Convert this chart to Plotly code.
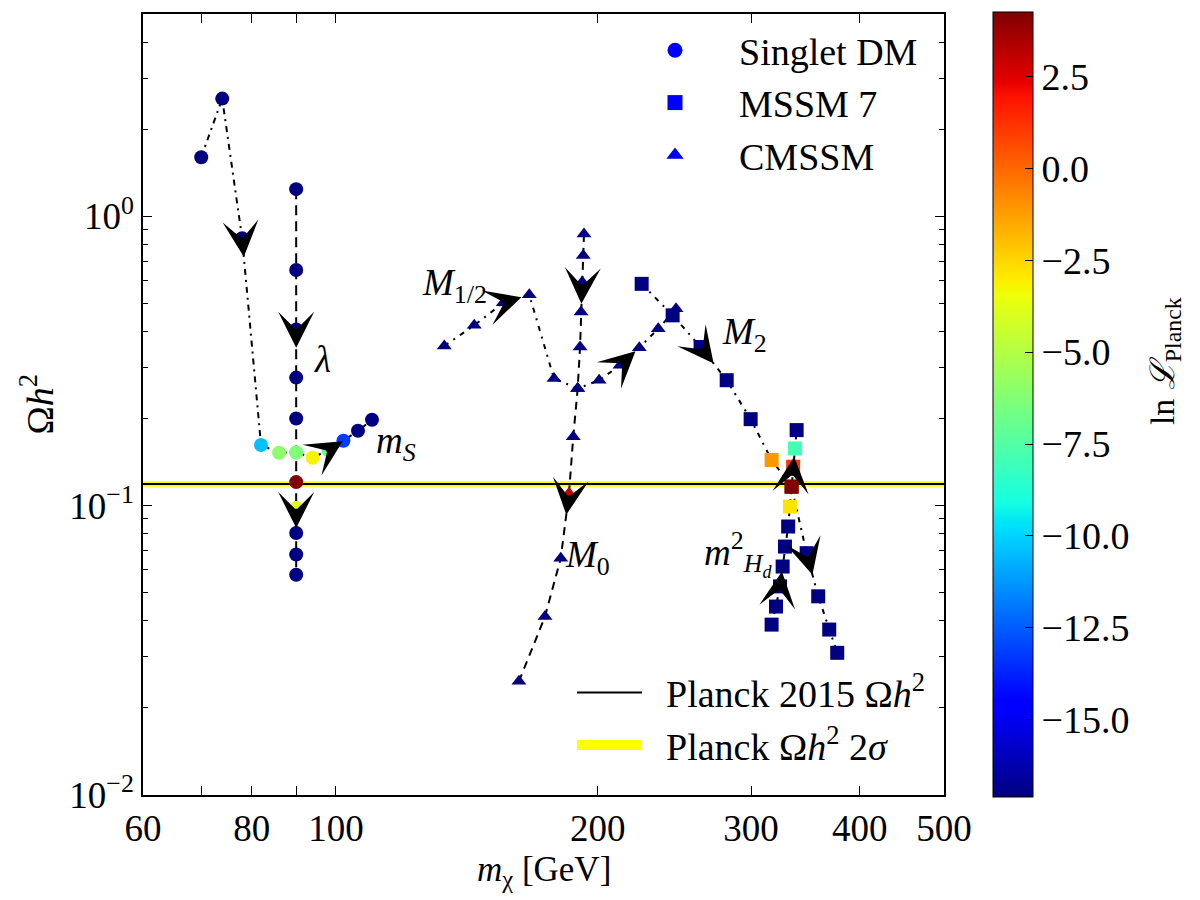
import math
import plotly.graph_objects as go

# ---------------- data ----------------
# Singlet DM: scan in m_S (lambda fixed)
singlet_ms_mass = [70, 74, 78, 82, 86, 90, 94, 98, 102, 106, 110]
singlet_ms_omega = [1.60, 2.55, 0.840, 0.162, 0.1524, 0.1527, 0.1464, 0.1556, 0.1675, 0.1814, 0.198]
singlet_ms_lnl = [-17.1, -17.1, -17.1, -10.4, -6.0, -6.3, -3.2, -7.0, -13.2, -17.1, -17.1]

# Singlet DM: scan in lambda (m_S fixed)
singlet_lam_mass = [90, 90, 90, 90, 90, 90, 90, 90, 90, 90, 90]
singlet_lam_omega = [1.241, 0.652, 0.406, 0.277, 0.200, 0.1527, 0.1206, 0.0981, 0.0804, 0.0678, 0.0577]
singlet_lam_lnl = [-17.1, -17.1, -17.1, -17.1, -17.1, -6.3, 4.2, -3.9, -17.1, -17.1, -17.1]

# MSSM7: scan in M2
mssm_m2_mass = [224.6, 243.8, 262.5, 281.3, 299.7, 316.8, 334.0, 347.6, 358.4, 369.0, 376.9]
mssm_m2_omega = [0.584, 0.4546, 0.3534, 0.2713, 0.199, 0.1438, 0.1163, 0.0685, 0.0486, 0.0373, 0.0310]
mssm_m2_lnl = [-17.1, -17.1, -17.1, -17.1, -17.1, -1.1, 4.2, -17.1, -17.1, -17.1, -17.1]

# MSSM7: scan in m^2_Hd
mssm_mhd_mass = [316.8, 320.5, 323.9, 326.2, 328.2, 331.0, 332.5, 334.0, 335.4, 337.0, 338.5]
mssm_mhd_omega = [0.0388, 0.0448, 0.0526, 0.0616, 0.0722, 0.0847, 0.0992, 0.1163, 0.1363, 0.1576, 0.1824]
mssm_mhd_lnl = [-17.1, -17.1, -17.1, -17.1, -17.1, -17.1, -2.8, 4.2, 1.2, -7.9, -17.1]

# CMSSM: scan in M0
cmssm_m0_mass = [192.8, 192.4, 191.9, 191.3, 190.8, 189.6, 187.4, 185.3, 181.3, 173.9, 162.3]
cmssm_m0_omega = [0.869, 0.7318, 0.5922, 0.4667, 0.3534, 0.2538, 0.1730, 0.1103, 0.0658, 0.0414, 0.0247]
cmssm_m0_lnl = [-17.1, -17.1, -17.1, -17.1, -17.1, -17.1, -17.1, 3.0, -17.1, -17.1, -17.1]

# CMSSM: scan in M1/2
cmssm_m12_mass = [133.2, 144.2, 155.7, 166.8, 178.1, 189.6, 200.7, 212.1, 223.2, 234.7, 246.0]
cmssm_m12_omega = [0.3562, 0.4199, 0.5024, 0.5355, 0.2748, 0.2538, 0.2713, 0.3055, 0.3514, 0.4088, 0.4790]
cmssm_m12_lnl = [-17.1, -17.1, -17.1, -17.1, -17.1, -17.1, -17.1, -17.1, -17.1, -17.1, -17.1]

# Planck relic density
planck_omega = 0.1188
planck_2sigma_lo = 0.1161
planck_2sigma_hi = 0.1215

# colour range of ln L_Planck
lnl_min, lnl_max = -17.1, 4.25
cbar_ticks = [-15.0, -12.5, -10.0, -7.5, -5.0, -2.5, 0.0, 2.5]

x_ticks = [60, 70, 80, 90, 100, 200, 300, 400, 500]
x_ticktext = ["60", "", "80", "", "100", "200", "300", "400", "500"]
y_ticks = [0.01, 0.1, 1.0]
y_ticktext = ["10<sup>\u22122</sup>", "10<sup>\u22121</sup>", "10<sup>0</sup>"]

# ---------------- styling ----------------
SERIF = "Liberation Serif"
JET = [
    [0.0, "rgb(0,0,128)"], [0.11, "rgb(0,0,255)"], [0.125, "rgb(0,0,255)"],
    [0.34, "rgb(0,219,255)"], [0.35, "rgb(0,229,246)"], [0.375, "rgb(21,255,226)"],
    [0.64, "rgb(239,255,8)"], [0.65, "rgb(247,245,0)"], [0.66, "rgb(255,236,0)"],
    [0.89, "rgb(255,19,0)"], [0.91, "rgb(232,0,0)"], [1.0, "rgb(128,0,0)"],
]

W, H = 1200, 900
ML, MR, MT, MB = 143, 256, 12, 105
PW, PH = W - ML - MR, H - MT - MB
X_RANGE = [60, 500]
Y_RANGE = [0.01, 5.0]
LX = [math.log10(v) for v in X_RANGE]
LY = [math.log10(v) for v in Y_RANGE]
PX_X = PW / (LX[1] - LX[0])
PX_Y = PH / (LY[1] - LY[0])

series = {
    "ms": (singlet_ms_mass, singlet_ms_omega, singlet_ms_lnl, "circle", 14, "6px,5px,2px,5px"),
    "lam": (singlet_lam_mass, singlet_lam_omega, singlet_lam_lnl, "circle", 14, "10px,6px"),
    "m2": (mssm_m2_mass, mssm_m2_omega, mssm_m2_lnl, "square", 14, "5px,6px,2px,6px"),
    "mhd": (mssm_mhd_mass, mssm_mhd_omega, mssm_mhd_lnl, "square", 14, "6px,5px"),
    "m0": (cmssm_m0_mass, cmssm_m0_omega, cmssm_m0_lnl, "triangle-up", 13, "8px,6px"),
    "m12": (cmssm_m12_mass, cmssm_m12_omega, cmssm_m12_lnl, "triangle-up", 13, "5px,6px,2px,6px"),
}

fig = go.Figure()

# Planck band and line
fig.add_trace(go.Scatter(
    x=[X_RANGE[0], X_RANGE[1], X_RANGE[1], X_RANGE[0], X_RANGE[0]],
    y=[planck_2sigma_lo, planck_2sigma_lo, planck_2sigma_hi, planck_2sigma_hi, planck_2sigma_lo],
    mode="lines", fill="toself", fillcolor="rgb(255,255,0)", line=dict(width=0),
    showlegend=False, hoverinfo="skip"))
fig.add_trace(go.Scatter(
    x=X_RANGE, y=[planck_omega, planck_omega], mode="lines",
    line=dict(color="black", width=2), showlegend=False, hoverinfo="skip"))

# connecting lines
for key, (xs, ys, cs, sym, sz, dash) in series.items():
    fig.add_trace(go.Scatter(x=xs, y=ys, mode="lines",
                             line=dict(color="black", width=2, dash=dash),
                             showlegend=False, hoverinfo="skip"))

# markers
first = True
for key, (xs, ys, cs, sym, sz, dash) in series.items():
    marker = dict(symbol=sym, size=sz, color=cs, colorscale=JET, cmin=lnl_min, cmax=lnl_max,
                  line=dict(width=0))
    if first:
        marker.update(showscale=True, colorbar=dict(
            thickness=40, len=785, lenmode="pixels",
            x=(993 - ML) / PW, xanchor="left", y=1.0025, yanchor="top",
            xpad=0, ypad=0, outlinewidth=1, outlinecolor="black",
            tickvals=cbar_ticks, tickformat=".1f", ticks="inside", ticklen=8,
            tickcolor="black", tickfont=dict(family=SERIF, size=38, color="black")))
        first = False
    fig.add_trace(go.Scatter(x=xs, y=ys, mode="markers", marker=marker,
                             showlegend=False))

NB = "\u00a0"
# legend 1: models
for name, sym in [("Singlet DM", "circle"), ("MSSM 7", "square"), ("CMSSM", "triangle-up")]:
    fig.add_trace(go.Scatter(x=[None], y=[None], mode="markers", name=NB * 2 + name,
                             marker=dict(symbol=sym, size=15, color="rgb(0,0,255)"),
                             legend="legend"))
# legend 2: Planck
fig.add_trace(go.Scatter(x=[None], y=[None], mode="lines",
                         name=NB * 2 + "Planck 2015 \u03a9<i>h</i><sup>2</sup>",
                         line=dict(color="black", width=2), legend="legend2"))
fig.add_trace(go.Scatter(x=[None], y=[None], mode="lines",
                         name=NB * 2 + "Planck \u03a9<i>h</i><sup>2</sup> 2<i>\u03c3</i>",
                         line=dict(color="rgb(255,255,0)", width=15), legend="legend2"))

# direction arrows (placed along the scan segments)
arrow_specs = [("ms", 2, 0.09), ("lam", 2, 0.38), ("lam", 7, 0.8), ("ms", 7, 0.95),
               ("m12", 2, 0.7), ("m0", 2, 0.72), ("m0", 7, 0.33), ("m12", 7, 0.8),
               ("m2", 2, 0.5), ("mhd", 2, 0.75), ("mhd", 8, 0.55), ("m2", 7, 0.5)]
annotations = []
for key, i, t in arrow_specs:
    xs, ys = series[key][0], series[key][1]
    lx1, lx2 = math.log10(xs[i]), math.log10(xs[i + 1])
    ly1, ly2 = math.log10(ys[i]), math.log10(ys[i + 1])
    tx, ty = lx1 + t * (lx2 - lx1), ly1 + t * (ly2 - ly1)
    dxp, dyp = (lx2 - lx1) * PX_X, -(ly2 - ly1) * PX_Y
    n = math.hypot(dxp, dyp)
    L = 14
    annotations.append(dict(x=tx, y=ty, xref="x", yref="y", text="", showarrow=True,
                            arrowhead=3, arrowsize=6, arrowwidth=1, arrowcolor="black",
                            ax=-dxp / n * L, ay=-dyp / n * L, standoff=0))

# scan labels
labels = [("<i>\u03bb</i>", 96.6, 0.321),
          ("<i>m<sub>S</sub></i>", 117.2, 0.1636),
          ("<i>M</i><sub>1/2</sub>", 137.0, 0.578),
          ("<i>M</i><sub>0</sub>", 194.8, 0.0662),
          ("<i>M</i><sub>2</sub>", 295.2, 0.389),
          ("<i>m</i><sup>2</sup><sub><i>H<sub>d</sub></i></sub>", 289.8, 0.0683)]
for txt, lx, ly in labels:
    annotations.append(dict(x=math.log10(lx), y=math.log10(ly), xref="x", yref="y", text=txt,
                            showarrow=False, xanchor="center", yanchor="middle",
                            font=dict(family=SERIF, size=37, color="black")))

# axis titles
annotations.append(dict(x=0.5, y=-(872 - (H - MB)) / PH, xref="paper", yref="paper",
                        xanchor="center", yanchor="middle",
                        text="<i>m</i><sub>\u03c7</sub> [GeV]", showarrow=False,
                        font=dict(family=SERIF, size=35, color="black")))
annotations.append(dict(x=(37 - ML) / PW, y=0.5, xref="paper", yref="paper",
                        xanchor="center", yanchor="middle",
                        text="\u03a9<i>h</i><sup>2</sup>", showarrow=False, textangle=-90,
                        font=dict(family=SERIF, size=38, color="black")))
annotations.append(dict(x=(1165 - ML) / PW, y=1 - (360 - MT) / PH, xref="paper", yref="paper",
                        xanchor="center", yanchor="middle",
                        text="ln <i>\u2112</i><sub>Planck</sub>", showarrow=False, textangle=-90,
                        font=dict(family=SERIF, size=34, color="black")))

axis_common = dict(showline=True, linecolor="black", linewidth=1.5, mirror="allticks",
                   ticks="inside", tickcolor="black", showgrid=False, zeroline=False,
                   tickfont=dict(family=SERIF, size=37, color="black"))

y_minor = [k * 10 ** d for d in (-2, -1, 0) for k in range(2, 10) if k * 10 ** d <= Y_RANGE[1]]

fig.update_layout(
    width=W, height=H,
    margin=dict(l=ML, r=MR, t=MT, b=MB),
    paper_bgcolor="white", plot_bgcolor="white",
    font=dict(family=SERIF, color="black"),
    xaxis=dict(type="log", range=LX, tickmode="array", tickvals=x_ticks, ticktext=x_ticktext,
               ticklen=9, **axis_common),
    yaxis=dict(type="log", range=LY, tickmode="array", tickvals=y_ticks, ticktext=y_ticktext,
               ticklen=9, minor=dict(tickmode="array", tickvals=y_minor, ticks="inside",
                                     ticklen=5, tickcolor="black"), **axis_common),
    legend=dict(x=(630 - ML) / PW, y=1 - (17 - MT) / PH, xanchor="left", yanchor="top",
                bgcolor="rgba(0,0,0,0)", borderwidth=0, itemwidth=80, tracegroupgap=0,
                font=dict(family=SERIF, size=38, color="black")),
    legend2=dict(x=(572 - ML) / PW, y=1 - (661 - MT) / PH, xanchor="left", yanchor="top",
                 bgcolor="rgba(0,0,0,0)", borderwidth=0, itemwidth=65, tracegroupgap=0,
                 font=dict(family=SERIF, size=38, color="black")),
    annotations=annotations,
)

fig.write_html("out.html")
